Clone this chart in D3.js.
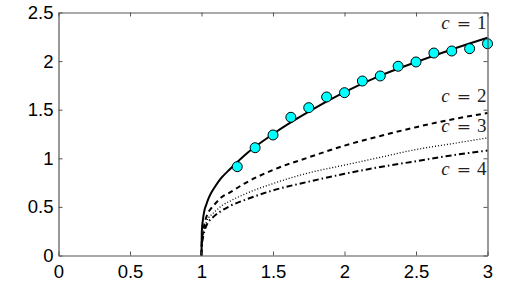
<!DOCTYPE html>
<html><head><meta charset="utf-8">
<script src="https://cdn.jsdelivr.net/npm/d3@7"></script>
<style>body{margin:0;background:#fff}svg{display:block}</style>
</head><body><svg id="c" width="510" height="296"></svg>
<script>
const xTicks = [0, 0.5, 1, 1.5, 2, 2.5, 3];
const yTicks = [0, 0.5, 1, 1.5, 2, 2.5];
const curveX = [1, 1.002, 1.01, 1.02, 1.035, 1.05, 1.07, 1.1, 1.14, 1.2, 1.3, 1.5, 1.75, 2, 2.25, 2.5, 2.75, 3];
const c1 = [0, 0.24, 0.37, 0.46, 0.53, 0.59, 0.65, 0.72, 0.80, 0.89, 1.03, 1.25, 1.48, 1.68, 1.85, 1.99, 2.12, 2.24];
const c2 = [0, 0.14, 0.24, 0.32, 0.40, 0.45, 0.49, 0.54, 0.60, 0.65, 0.74, 0.88, 1.01, 1.13, 1.23, 1.32, 1.40, 1.465];
const c3 = [0, 0.12, 0.21, 0.28, 0.35, 0.39, 0.42, 0.46, 0.51, 0.56, 0.63, 0.74, 0.85, 0.93, 1.01, 1.09, 1.15, 1.21];
const c4 = [0, 0.10, 0.18, 0.25, 0.31, 0.35, 0.38, 0.42, 0.46, 0.51, 0.57, 0.67, 0.76, 0.84, 0.91, 0.97, 1.03, 1.08];
const ptX = [1.25, 1.375, 1.5, 1.625, 1.75, 1.875, 2, 2.125, 2.25, 2.375, 2.5, 2.625, 2.75, 2.875, 3];
const ptY = [0.914, 1.109, 1.240, 1.422, 1.521, 1.631, 1.675, 1.795, 1.847, 1.947, 1.991, 2.083, 2.104, 2.128, 2.179];
const labels = ["1", "2", "3", "4"];
const labelY = [2.33, 1.58, 1.27, 0.83];

const svg = d3.select("#c");
const L = 58.5, R = 487.5, T = 12.5, B = 255.5;
const x = d3.scaleLinear().domain([0, 3]).range([L, R]);
const y = d3.scaleLinear().domain([0, 2.5]).range([B, T]);

const series = [
  {v: c1, dash: null, w: 2},
  {v: c2, dash: "5,4", w: 2},
  {v: c3, dash: "1,2", w: 1.3},
  {v: c4, dash: "6,3,1.5,3", w: 2}
];
const line = d3.line().x(d => x(d[0])).y(d => y(d[1])).curve(d3.curveMonotoneX);
series.forEach(s => {
  svg.append("path")
    .attr("d", line(curveX.map((xv, i) => [xv, s.v[i]])))
    .attr("fill", "none").attr("stroke", "#000")
    .attr("stroke-width", s.w)
    .attr("stroke-dasharray", s.dash);
});

svg.append("g").selectAll("circle").data(ptX).join("circle")
  .attr("cx", d => x(d)).attr("cy", (d, i) => y(ptY[i])).attr("r", 5)
  .attr("fill", "#00ffff").attr("stroke", "#000").attr("stroke-width", 1);

const axStyle = g => {
  g.select(".domain").attr("stroke", "#555").attr("stroke-width", 1.2);
  g.selectAll(".tick line").attr("stroke", "#555");
};
svg.append("g").attr("transform", `translate(0,${B})`)
  .call(d3.axisBottom(x).tickValues(xTicks).tickSize(-4).tickSizeOuter(0).tickPadding(9).tickFormat(d3.format("")))
  .call(axStyle)
  .call(g => g.selectAll("text").attr("font-family", "Liberation Sans, Arial").attr("font-size", 18.5).attr("fill", "#000"));
svg.append("g").attr("transform", `translate(0,${T})`)
  .call(d3.axisTop(x).tickValues(xTicks).tickSize(-4).tickSizeOuter(0).tickFormat(""))
  .call(axStyle);
svg.append("g").attr("transform", `translate(${L},0)`)
  .call(d3.axisLeft(y).tickValues(yTicks).tickSize(-4).tickSizeOuter(0).tickPadding(5).tickFormat(d3.format("")))
  .call(axStyle)
  .call(g => g.selectAll("text").attr("font-family", "Liberation Sans, Arial").attr("font-size", 18.5).attr("fill", "#000"));
svg.append("g").attr("transform", `translate(${R},0)`)
  .call(d3.axisRight(y).tickValues(yTicks).tickSize(-4).tickSizeOuter(0).tickFormat(""))
  .call(axStyle);

labels.forEach((l, i) => {
  const t = svg.append("text").attr("x", R - 1).attr("y", y(labelY[i]))
    .attr("text-anchor", "end").attr("font-family", "Liberation Serif, Times New Roman, serif")
    .attr("font-size", 19).attr("fill", "#222");
  t.append("tspan").attr("font-style", "italic").text("c");
  t.append("tspan").attr("dx", 7).attr("font-family", "DejaVu Serif").attr("font-size", 17).text("=");
  t.append("tspan").attr("dx", 6).text(l);
});
</script></body></html>
